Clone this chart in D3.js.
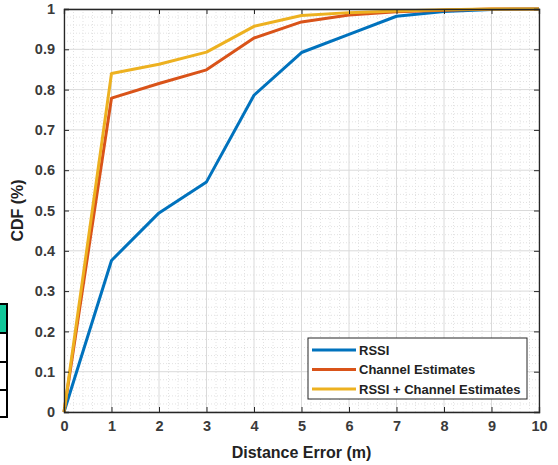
<!DOCTYPE html>
<html><head><meta charset="utf-8">
<script src="https://cdn.jsdelivr.net/npm/d3@7"></script>
<style>body{margin:0;background:#fff}svg{display:block}text{font-family:"Liberation Sans",Arial,sans-serif}</style>
</head><body>
<svg id="c" width="558" height="465"></svg>
<script>
const xValues = [0,1,2,3,4,5,6,7,8,9,10];
const rssi = [0,0.376,0.494,0.571,0.786,0.892,0.937,0.982,0.994,0.999,1];
const channel = [0,0.779,0.815,0.849,0.928,0.968,0.985,0.993,0.997,1,1];
const combined = [0,0.840,0.863,0.893,0.957,0.984,0.991,0.995,0.998,1,1];
const seriesNames = ["RSSI","Channel Estimates","RSSI + Channel Estimates"];
const seriesColors = ["#0072BD","#D95319","#EDB120"];
const xTicks = [0,1,2,3,4,5,6,7,8,9,10];
const yTicks = [0,0.1,0.2,0.3,0.4,0.5,0.6,0.7,0.8,0.9,1];
const xLabel = "Distance Error (m)";
const yLabel = "CDF (%)";

const svg = d3.select("#c");
const L=64,R=539,T=9,B=412;
const x = d3.scaleLinear().domain([0,10]).range([L,R]);
const y = d3.scaleLinear().domain([0,1]).range([B,T]);

// left artifact (table fragment)
const art = svg.append("g");
art.append("rect").attr("x",-2).attr("y",304).attr("width",9).attr("height",29).attr("fill","#12c79a");
[[304,333],[333,362],[362,390],[390,417]].forEach(r=>{
  art.append("rect").attr("x",-2).attr("y",r[0]).attr("width",9).attr("height",r[1]-r[0]).attr("fill","none").attr("stroke","#000").attr("stroke-width",2);
});

// minor grid
const g = svg.append("g");
const minorX = d3.range(0,10.001,0.2).filter(v=>Math.abs(v-Math.round(v))>1e-6);
const minorY = d3.range(0,1.0001,0.02).filter(v=>Math.abs(v*10-Math.round(v*10))>1e-6);
g.selectAll(".mx").data(minorX).join("line").attr("x1",d=>x(d)).attr("x2",d=>x(d)).attr("y1",T).attr("y2",B)
 .attr("stroke","#e2e2e2").attr("stroke-width",1).attr("stroke-dasharray","1,2");
g.selectAll(".my").data(minorY).join("line").attr("x1",L).attr("x2",R).attr("y1",d=>y(d)).attr("y2",d=>y(d))
 .attr("stroke","#e2e2e2").attr("stroke-width",1).attr("stroke-dasharray","1,2");
// major grid
g.selectAll(".gx").data(xTicks).join("line").attr("x1",d=>x(d)).attr("x2",d=>x(d)).attr("y1",T).attr("y2",B)
 .attr("stroke","#dadada").attr("stroke-width",1);
g.selectAll(".gy").data(yTicks).join("line").attr("x1",L).attr("x2",R).attr("y1",d=>y(d)).attr("y2",d=>y(d))
 .attr("stroke","#dadada").attr("stroke-width",1);

// lines
const data = [rssi,channel,combined];
const line = d3.line().x((d,i)=>x(xValues[i])).y(d=>y(d));
data.forEach((s,i)=>{
  svg.append("path").datum(s).attr("d",line).attr("fill","none").attr("stroke",seriesColors[i]).attr("stroke-width",3).attr("stroke-linejoin","round");
});

// axes
const axCol="#262626";
const xAxis = svg.append("g").attr("transform",`translate(0,${B})`).call(d3.axisBottom(x).tickValues(xTicks).tickSize(-5).tickPadding(9).tickFormat(d3.format("d")));
const xAxisT = svg.append("g").attr("transform",`translate(0,${T})`).call(d3.axisTop(x).tickValues(xTicks).tickSize(-5).tickFormat(""));
const yAxis = svg.append("g").attr("transform",`translate(${L},0)`).call(d3.axisLeft(y).tickValues(yTicks).tickSize(-5).tickPadding(9).tickFormat(d=>d===0?"0":d===1?"1":d3.format(".1f")(d)));
const yAxisR = svg.append("g").attr("transform",`translate(${R},0)`).call(d3.axisRight(y).tickValues(yTicks).tickSize(-5).tickFormat(""));
[xAxis,xAxisT,yAxis,yAxisR].forEach(a=>{
  a.select(".domain").attr("stroke",axCol).attr("stroke-width",1.3);
  a.selectAll(".tick line").attr("stroke",axCol).attr("stroke-width",1);
  a.selectAll(".tick text").attr("fill","#3a3a3a").attr("font-size",14.5).attr("font-weight","bold").attr("font-family","Liberation Sans, Arial, sans-serif");
});

svg.append("text").attr("x",(L+R)/2).attr("y",458).attr("text-anchor","middle").attr("font-size",16).attr("font-weight","bold").attr("fill","#222").text(xLabel);
svg.append("text").attr("transform",`translate(23,${(T+B)/2}) rotate(-90)`).attr("text-anchor","middle").attr("font-size",16).attr("font-weight","bold").attr("fill","#222").text(yLabel);

// legend
const lg = svg.append("g");
lg.append("rect").attr("x",308).attr("y",338).attr("width",219).attr("height",61).attr("fill","#fff").attr("stroke","#262626").attr("stroke-width",1);
seriesNames.forEach((n,i)=>{
  const yy = 350 + i*19.5;
  lg.append("line").attr("x1",312).attr("x2",356).attr("y1",yy).attr("y2",yy).attr("stroke",seriesColors[i]).attr("stroke-width",3);
  lg.append("text").attr("x",359).attr("y",yy+4.5).attr("font-size",13).attr("font-weight","bold").attr("fill","#222").text(n);
});
</script>
</body></html>
